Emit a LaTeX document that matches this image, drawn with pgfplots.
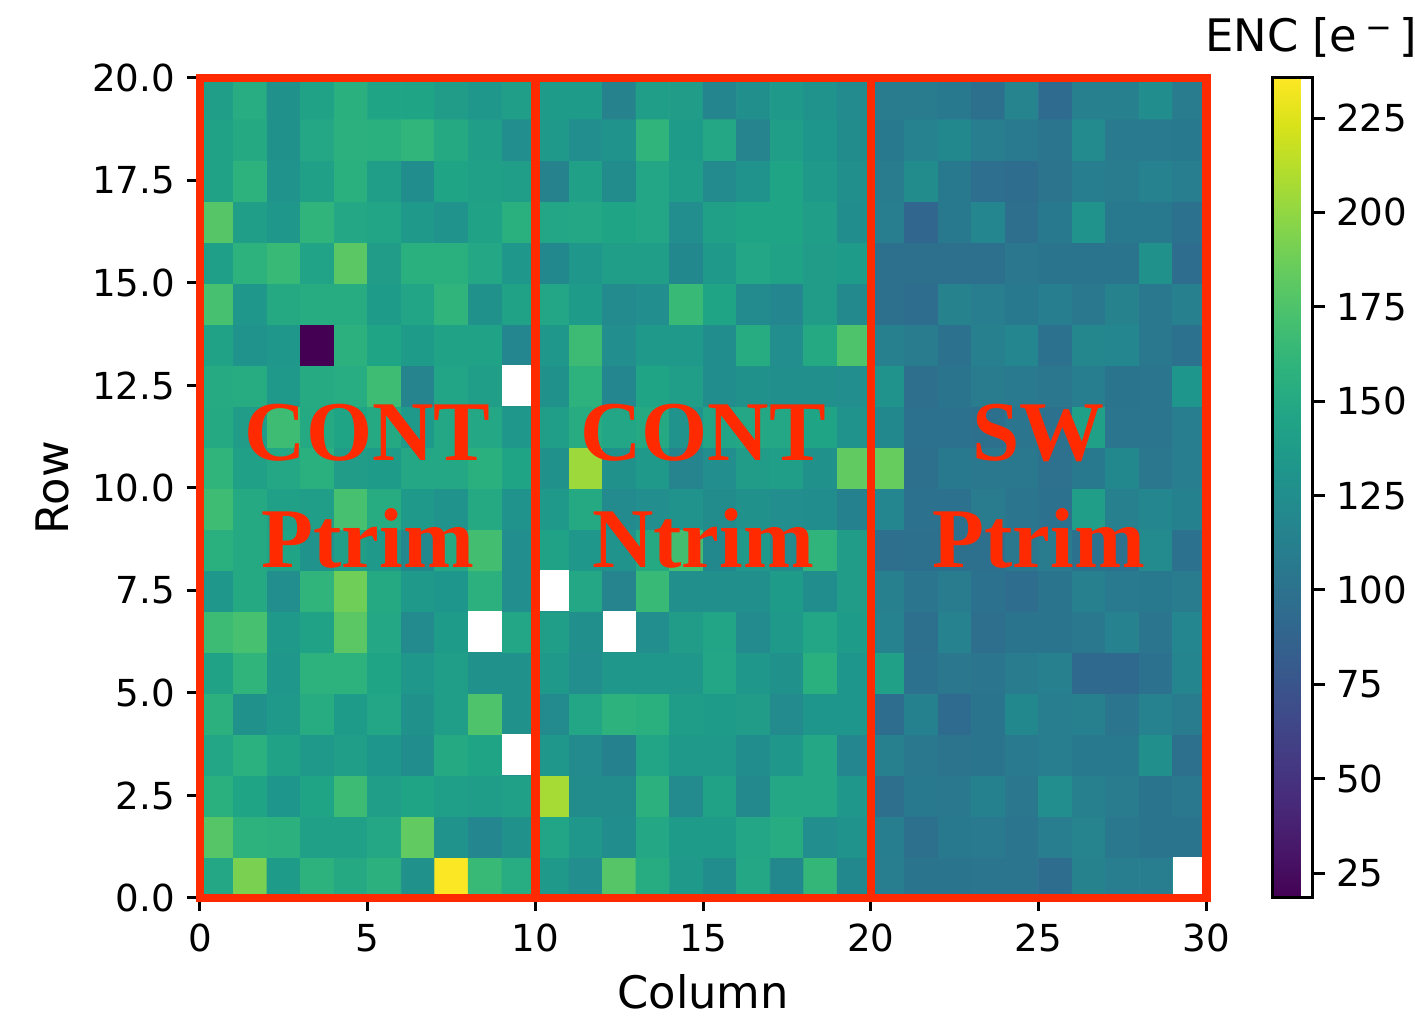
\documentclass[border=0pt]{standalone}
\usepackage{pgfplots}
\usepackage{fontspec}
\pgfplotsset{compat=1.18}
\setmainfont{DejaVu Sans}
\newfontfamily\labfont{Liberation Serif}
\definecolor{framered}{RGB}{255,42,0}
\newcommand{\lab}[1]{{\labfont\bfseries\fontsize{42.5}{46}\selectfont #1}}
\begin{document}
\begin{tikzpicture}[x=1pt,y=1pt]
\path[use as bounding box] (0,0) rectangle (707.5,508);
\begin{axis}[
  at={(100pt,59pt)}, anchor=south west,
  scale only axis, width=503.2pt, height=410pt,
  xmin=0, xmax=30, ymin=0, ymax=20,
  clip=false,
  axis line style={line width=1.5pt},
  tick align=outside, xtick pos=bottom, ytick pos=left,
  major tick length=6.5pt,
  tick style={black, line width=1.5pt},
  xtick={0,5,...,30},
  ytick={0,2.5,5,7.5,10,12.5,15,17.5,20},
  tick label style={font=\fontsize{18.6}{20}\selectfont},
  /pgf/number format/assume math mode=true,
  xticklabel style={/pgf/number format/fixed, yshift=-3pt},
  yticklabel style={/pgf/number format/fixed, /pgf/number format/fixed zerofill, /pgf/number format/precision=1, xshift=-2.5pt},
  xlabel={Column}, ylabel={Row},
  label style={font=\fontsize{22.4}{24}\selectfont},
  xlabel style={yshift=-4.5pt},
  ylabel style={yshift=4.5pt},
  colormap name=viridis,
  point meta min=18.4, point meta max=235.6,
  colorbar right,
  colorbar style={
    at={(1.0652,0)}, anchor=south west,
    width=20pt, height=410pt,
    axis line style={line width=1.5pt},
    ytick={25,50,...,225},
    tick align=outside,
    major tick length=6.5pt,
    tick style={black, line width=1.5pt},
    ytick pos=right,
    tick label style={font=\fontsize{18.6}{20}\selectfont},
    /pgf/number format/assume math mode=true,
    yticklabel style={/pgf/number format/fixed, xshift=2pt},
  },
]
\addplot[matrix plot*, mesh/cols=30, mesh/rows=20, point meta=explicit]
  table[row sep=\\, header=false, x expr={\coordindex-30*floor((\coordindex+0.5)/30)+0.5}, y expr={floor((\coordindex+0.5)/30)+0.5}, meta index=0] {
148\\192\\137\\158\\150\\157\\128\\235\\165\\153\\135\\125\\178\\152\\136\\124\\148\\120\\162\\120\\110\\102\\102\\103\\103\\95\\115\\110\\110\\130\\
178\\158\\157\\142\\142\\148\\183\\130\\118\\128\\146\\134\\124\\148\\137\\137\\147\\152\\125\\130\\111\\98\\106\\107\\103\\110\\116\\105\\102\\102\\
155\\145\\132\\145\\167\\140\\145\\141\\139\\142\\207\\123\\123\\157\\122\\143\\121\\148\\148\\133\\97\\106\\105\\113\\104\\125\\112\\108\\102\\105\\
147\\156\\143\\135\\140\\132\\124\\150\\145\\130\\133\\122\\113\\146\\135\\135\\124\\133\\148\\118\\112\\105\\101\\102\\107\\110\\106\\106\\126\\98\\
157\\128\\135\\152\\137\\147\\128\\140\\175\\128\\122\\147\\158\\155\\139\\137\\138\\122\\132\\132\\95\\113\\94\\102\\120\\110\\112\\103\\114\\108\\
143\\160\\133\\158\\158\\145\\133\\140\\128\\128\\135\\125\\133\\133\\133\\147\\133\\128\\155\\132\\142\\100\\104\\103\\108\\112\\92\\92\\100\\117\\
167\\172\\135\\143\\180\\148\\122\\137\\130\\147\\140\\126\\130\\125\\138\\146\\122\\135\\147\\137\\114\\98\\114\\97\\102\\102\\105\\114\\103\\118\\
133\\150\\125\\160\\188\\150\\135\\132\\157\\125\\130\\148\\116\\165\\127\\127\\127\\137\\124\\138\\112\\103\\108\\100\\95\\102\\112\\107\\106\\108\\
155\\150\\145\\130\\140\\135\\120\\150\\170\\125\\143\\133\\130\\150\\170\\120\\135\\122\\160\\138\\97\\98\\98\\98\\105\\108\\100\\100\\122\\100\\
168\\150\\142\\140\\172\\152\\135\\130\\150\\130\\135\\150\\122\\125\\130\\123\\128\\125\\124\\113\\118\\100\\100\\108\\103\\100\\140\\112\\118\\113\\
160\\142\\148\\155\\138\\137\\148\\148\\155\\145\\128\\204\\128\\135\\116\\125\\138\\140\\128\\183\\185\\98\\106\\105\\105\\99\\106\\120\\104\\110\\
150\\138\\168\\150\\145\\150\\135\\148\\148\\133\\140\\152\\147\\150\\130\\146\\148\\148\\145\\130\\120\\100\\100\\98\\103\\100\\142\\103\\103\\110\\
151\\152\\135\\151\\153\\168\\116\\146\\140\\130\\128\\158\\118\\145\\140\\124\\128\\127\\126\\125\\130\\97\\102\\108\\107\\104\\111\\102\\103\\132\\
143\\130\\133\\18.4\\157\\145\\137\\143\\143\\118\\133\\167\\125\\135\\135\\124\\152\\125\\150\\175\\112\\108\\100\\112\\118\\100\\119\\118\\105\\100\\
172\\133\\150\\152\\152\\137\\146\\160\\128\\143\\147\\137\\122\\125\\165\\145\\122\\118\\138\\121\\98\\95\\115\\110\\106\\111\\105\\115\\105\\112\\
141\\158\\165\\144\\180\\138\\155\\155\\148\\133\\120\\133\\140\\140\\120\\135\\147\\143\\138\\137\\98\\98\\98\\98\\104\\102\\102\\102\\128\\95\\
178\\140\\133\\160\\148\\146\\135\\130\\143\\155\\147\\148\\145\\147\\125\\142\\145\\145\\140\\124\\110\\90\\106\\118\\97\\106\\130\\106\\106\\100\\
143\\158\\130\\142\\155\\140\\124\\145\\142\\140\\115\\142\\123\\147\\139\\122\\130\\145\\135\\127\\108\\123\\106\\96\\95\\101\\111\\109\\114\\110\\
143\\150\\128\\148\\157\\155\\161\\150\\140\\125\\135\\125\\130\\160\\137\\148\\116\\140\\132\\123\\106\\114\\120\\110\\107\\103\\122\\107\\107\\106\\
140\\153\\128\\143\\155\\145\\145\\138\\133\\140\\137\\137\\115\\140\\138\\117\\127\\136\\130\\122\\109\\109\\106\\98\\116\\94\\112\\112\\124\\108\\
};
% pixels without data
\addplot[fill=white, draw=none] coordinates {(9,12)(10,12)(10,13)(9,13)} --cycle;
\addplot[fill=white, draw=none] coordinates {(8,6)(9,6)(9,7)(8,7)} --cycle;
\addplot[fill=white, draw=none] coordinates {(9,3)(10,3)(10,4)(9,4)} --cycle;
\addplot[fill=white, draw=none] coordinates {(29,0)(30,0)(30,1)(29,1)} --cycle;
\addplot[fill=white, draw=none] coordinates {(10,7)(11,7)(11,8)(10,8)} --cycle;
\addplot[fill=white, draw=none] coordinates {(12,6)(13,6)(13,7)(12,7)} --cycle;
% frames
\draw[framered, line width=4.2pt] (axis cs:0,0) rectangle (axis cs:10,20);
\draw[framered, line width=4.2pt] (axis cs:10,0) rectangle (axis cs:20,20);
\draw[framered, line width=4.2pt] (axis cs:20,0) rectangle (axis cs:30,20);
\node[anchor=base, text=framered, inner sep=0pt] at (axis cs:5,10.68) {\lab{CONT}};
\node[anchor=base, text=framered, inner sep=0pt] at (axis cs:5,8.05) {\lab{Ptrim}};
\node[anchor=base, text=framered, inner sep=0pt] at (axis cs:15,10.68) {\lab{CONT}};
\node[anchor=base, text=framered, inner sep=0pt] at (axis cs:15,8.05) {\lab{Ntrim}};
\node[anchor=base, text=framered, inner sep=0pt] at (axis cs:25,10.68) {\lab{SW}};
\node[anchor=base, text=framered, inner sep=0pt] at (axis cs:25,8.05) {\lab{Ptrim}};
\end{axis}
\node[anchor=base, inner sep=0pt, font=\fontsize{22.4}{24}\selectfont] at (655.5,482) {ENC [e\,\raisebox{0.55ex}{\fontsize{16}{18}\selectfont −}\,]};
\end{tikzpicture}
\end{document}
